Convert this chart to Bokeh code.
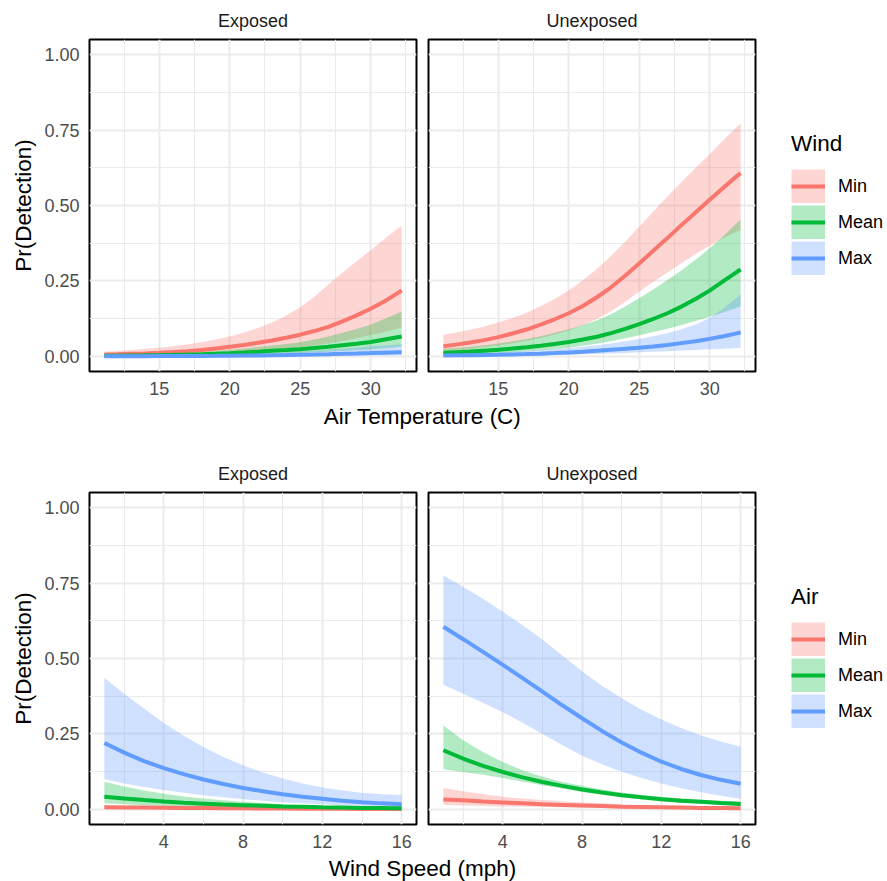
from bokeh.plotting import figure
from bokeh.layouts import column, row
from bokeh.models import (FixedTicker, NumeralTickFormatter, Legend, LegendItem,
                          Label, Range1d)
from bokeh.embed import file_html
from bokeh.resources import INLINE

# ---------------- data ----------------
levels = ["Min", "Mean", "Max"]
colors = ["#F8766D", "#00BA38", "#619CFF"]
panel_names = ["Exposed", "Unexposed"]

y_ticks = [0.0, 0.25, 0.5, 0.75, 1.0]
temp_ticks = [15, 20, 25, 30]
wind_ticks = [4, 8, 12, 16]

# Air temperature (C) sample points
air_temp = [11.1, 12, 13, 14, 15, 16, 17, 18, 19, 20, 21, 22, 23, 24, 25, 26,
            27, 28, 29, 30, 31, 32, 32.2]

# Top row: Pr(Detection) vs air temperature, by wind level
temp_exp_min_fit = [0.006, 0.007, 0.0085, 0.010, 0.012, 0.0145, 0.0175, 0.021, 0.026, 0.032, 0.038, 0.045,
                    0.053, 0.062, 0.072, 0.084, 0.098, 0.116, 0.136, 0.158, 0.183, 0.212, 0.219]
temp_exp_min_lo = [0.002, 0.0025, 0.003, 0.0037, 0.0045, 0.0055, 0.0068, 0.0083, 0.010, 0.012, 0.0145, 0.0175,
                   0.021, 0.025, 0.030, 0.036, 0.043, 0.051, 0.060, 0.070, 0.081, 0.093, 0.095]
temp_exp_min_hi = [0.016, 0.018, 0.021, 0.025, 0.029, 0.034, 0.040, 0.047, 0.056, 0.066, 0.079, 0.094,
                   0.112, 0.135, 0.163, 0.198, 0.238, 0.277, 0.315, 0.352, 0.390, 0.426, 0.433]
temp_exp_mean_fit = [0.002, 0.0024, 0.003, 0.0036, 0.0043, 0.0052, 0.0062, 0.0075, 0.009, 0.0108, 0.013, 0.0155,
                     0.0185, 0.021, 0.024, 0.028, 0.032, 0.037, 0.042, 0.048, 0.056, 0.064, 0.066]
temp_exp_mean_lo = [0.0008, 0.001, 0.0012, 0.0015, 0.0018, 0.0022, 0.0027, 0.0033, 0.004, 0.0048, 0.0058, 0.007,
                    0.0083, 0.0098, 0.0115, 0.0135, 0.0155, 0.0178, 0.0203, 0.023, 0.027, 0.031, 0.032]
temp_exp_mean_hi = [0.005, 0.0058, 0.0068, 0.008, 0.0095, 0.011, 0.013, 0.0155, 0.0185, 0.022, 0.026, 0.031,
                    0.036, 0.041, 0.047, 0.056, 0.066, 0.078, 0.091, 0.105, 0.125, 0.145, 0.149]
temp_exp_max_fit = [0.0005, 0.0006, 0.0007, 0.0008, 0.001, 0.0012, 0.0014, 0.0017, 0.002, 0.0024, 0.0029, 0.0034,
                    0.004, 0.0047, 0.0055, 0.0064, 0.0074, 0.0085, 0.0097, 0.011, 0.0125, 0.0138, 0.014]
temp_exp_max_lo = [0.0001, 0.0001, 0.0001, 0.0002, 0.0002, 0.0002, 0.0003, 0.0003, 0.0004, 0.0005, 0.0006, 0.0007,
                   0.0008, 0.001, 0.0012, 0.0014, 0.0017, 0.002, 0.0024, 0.0028, 0.0033, 0.0038, 0.004]
temp_exp_max_hi = [0.002, 0.0023, 0.0027, 0.0031, 0.0036, 0.0042, 0.0049, 0.0057, 0.0066, 0.0077, 0.009, 0.0105,
                   0.0122, 0.0142, 0.0165, 0.019, 0.022, 0.0255, 0.0293, 0.0335, 0.0365, 0.0395, 0.040]

temp_unexp_min_fit = [0.034, 0.039, 0.046, 0.054, 0.064, 0.076, 0.089, 0.105, 0.123, 0.143, 0.167, 0.196,
                      0.229, 0.267, 0.308, 0.350, 0.392, 0.435, 0.477, 0.519, 0.560, 0.600, 0.607]
temp_unexp_min_lo = [0.018, 0.021, 0.025, 0.030, 0.036, 0.043, 0.051, 0.061, 0.072, 0.086, 0.103, 0.124,
                     0.150, 0.181, 0.214, 0.247, 0.278, 0.309, 0.339, 0.367, 0.393, 0.415, 0.419]
temp_unexp_min_hi = [0.072, 0.079, 0.088, 0.099, 0.112, 0.127, 0.145, 0.166, 0.190, 0.218, 0.252, 0.290,
                     0.333, 0.380, 0.430, 0.480, 0.530, 0.578, 0.625, 0.670, 0.718, 0.763, 0.772]
temp_unexp_mean_fit = [0.012, 0.014, 0.016, 0.019, 0.022, 0.026, 0.030, 0.035, 0.041, 0.048, 0.056, 0.065,
                       0.077, 0.091, 0.107, 0.124, 0.143, 0.165, 0.190, 0.218, 0.250, 0.282, 0.288]
temp_unexp_mean_lo = [0.006, 0.007, 0.008, 0.010, 0.012, 0.014, 0.017, 0.020, 0.024, 0.029, 0.035, 0.042,
                      0.050, 0.060, 0.070, 0.081, 0.092, 0.104, 0.117, 0.131, 0.146, 0.162, 0.165]
temp_unexp_mean_hi = [0.025, 0.028, 0.032, 0.037, 0.043, 0.050, 0.058, 0.067, 0.078, 0.090, 0.104, 0.120,
                      0.140, 0.165, 0.193, 0.222, 0.253, 0.285, 0.320, 0.358, 0.400, 0.445, 0.452]
temp_unexp_max_fit = [0.003, 0.0035, 0.004, 0.0048, 0.0056, 0.0066, 0.0078, 0.0092, 0.011, 0.013, 0.0155, 0.0185,
                      0.022, 0.025, 0.029, 0.033, 0.038, 0.044, 0.050, 0.058, 0.067, 0.077, 0.080]
temp_unexp_max_lo = [0.001, 0.0012, 0.0015, 0.0018, 0.0022, 0.0027, 0.0033, 0.004, 0.0048, 0.0058, 0.007, 0.0083,
                     0.0098, 0.0115, 0.0135, 0.0155, 0.0175, 0.0195, 0.0215, 0.0235, 0.0255, 0.0275, 0.028]
temp_unexp_max_hi = [0.008, 0.009, 0.010, 0.012, 0.014, 0.016, 0.018, 0.021, 0.024, 0.028, 0.032, 0.037,
                     0.043, 0.050, 0.058, 0.067, 0.077, 0.090, 0.106, 0.127, 0.160, 0.198, 0.206]

# Wind speed (mph) sample points
wind_speed = [1, 2, 3, 4, 5, 6, 7, 8, 9, 10, 11, 12, 13, 14, 15, 16]

# Bottom row: Pr(Detection) vs wind speed, by air temperature level
wind_exp_min_fit = [0.007, 0.0065, 0.006, 0.0055, 0.005, 0.0045, 0.004, 0.0035, 0.003, 0.0027, 0.0024, 0.0021,
                    0.0018, 0.0015, 0.0012, 0.001]
wind_exp_min_lo = [0.003, 0.0028, 0.0026, 0.0024, 0.0022, 0.002, 0.0018, 0.0016, 0.0014, 0.0012, 0.001, 0.0009,
                   0.0008, 0.0007, 0.0006, 0.0005]
wind_exp_min_hi = [0.015, 0.014, 0.013, 0.012, 0.011, 0.010, 0.009, 0.008, 0.007, 0.006, 0.0053, 0.0046,
                   0.004, 0.0034, 0.0028, 0.0022]
wind_exp_mean_fit = [0.042, 0.036, 0.031, 0.026, 0.022, 0.019, 0.016, 0.014, 0.012, 0.010, 0.0085, 0.007,
                     0.006, 0.005, 0.0045, 0.004]
wind_exp_mean_lo = [0.020, 0.017, 0.014, 0.012, 0.0105, 0.009, 0.0075, 0.006, 0.005, 0.004, 0.0035, 0.003,
                    0.0025, 0.002, 0.0017, 0.0015]
wind_exp_mean_hi = [0.092, 0.076, 0.063, 0.052, 0.043, 0.036, 0.030, 0.025, 0.021, 0.017, 0.0145, 0.012,
                    0.010, 0.008, 0.007, 0.006]
wind_exp_max_fit = [0.220, 0.188, 0.160, 0.137, 0.117, 0.099, 0.084, 0.071, 0.060, 0.050, 0.042, 0.035,
                    0.029, 0.024, 0.020, 0.017]
wind_exp_max_lo = [0.100, 0.086, 0.074, 0.064, 0.055, 0.047, 0.040, 0.034, 0.029, 0.024, 0.020, 0.017,
                   0.014, 0.012, 0.010, 0.008]
wind_exp_max_hi = [0.435, 0.383, 0.334, 0.286, 0.244, 0.207, 0.174, 0.146, 0.122, 0.102, 0.086, 0.073,
                   0.063, 0.055, 0.050, 0.047]

wind_unexp_min_fit = [0.033, 0.030, 0.026, 0.023, 0.020, 0.017, 0.015, 0.013, 0.011, 0.009, 0.008, 0.007,
                      0.006, 0.005, 0.0045, 0.004]
wind_unexp_min_lo = [0.015, 0.013, 0.011, 0.010, 0.009, 0.008, 0.007, 0.006, 0.005, 0.004, 0.0035, 0.003,
                     0.0025, 0.002, 0.0017, 0.0015]
wind_unexp_min_hi = [0.071, 0.060, 0.051, 0.042, 0.036, 0.031, 0.027, 0.023, 0.020, 0.017, 0.0145, 0.012,
                     0.0105, 0.009, 0.008, 0.007]
wind_unexp_mean_fit = [0.196, 0.168, 0.144, 0.124, 0.106, 0.091, 0.078, 0.066, 0.056, 0.047, 0.040, 0.034,
                       0.029, 0.025, 0.021, 0.018]
wind_unexp_mean_lo = [0.133, 0.124, 0.115, 0.104, 0.092, 0.080, 0.069, 0.058, 0.049, 0.041, 0.033, 0.027,
                      0.022, 0.019, 0.015, 0.012]
wind_unexp_mean_hi = [0.278, 0.229, 0.190, 0.157, 0.130, 0.108, 0.091, 0.078, 0.066, 0.056, 0.048, 0.042,
                      0.037, 0.032, 0.029, 0.027]
wind_unexp_max_fit = [0.605, 0.564, 0.522, 0.479, 0.435, 0.390, 0.345, 0.302, 0.260, 0.222, 0.188, 0.158,
                      0.134, 0.114, 0.098, 0.085]
wind_unexp_max_lo = [0.413, 0.383, 0.353, 0.322, 0.287, 0.250, 0.213, 0.178, 0.150, 0.125, 0.104, 0.086,
                     0.070, 0.057, 0.045, 0.035]
wind_unexp_max_hi = [0.775, 0.738, 0.698, 0.655, 0.610, 0.563, 0.510, 0.458, 0.410, 0.368, 0.330, 0.298,
                     0.270, 0.245, 0.225, 0.208]

# ---------------- styling ----------------
FONT = "Liberation Sans"
FRAME_W, FRAME_H = 327, 332
LEFT_W, GAP = 89, 6
LEGEND_W = 887 - (LEFT_W + FRAME_W + GAP) - (GAP + FRAME_W + GAP)


def expand(vals, frac=0.05):
    lo, hi = min(vals), max(vals)
    d = (hi - lo) * frac
    return lo - d, hi + d


def minor_between(ticks):
    step = ticks[1] - ticks[0]
    return [t - step / 2 for t in ticks] + [ticks[-1] + step / 2]


def make_panel(name, xs, bands, xr, xticks, first, top, bottom):
    p = figure(frame_width=FRAME_W, frame_height=FRAME_H,
               x_range=Range1d(*xr), y_range=Range1d(-0.05, 1.05),
               output_backend="svg", toolbar_location=None,
               min_border_left=LEFT_W if first else GAP, min_border_right=GAP,
               min_border_top=top, min_border_bottom=bottom,
               background_fill_color="white", border_fill_color="white")
    p.title.text = name
    p.title.align = "center"
    p.title.text_font = FONT
    p.title.text_font_size = "18px"
    p.title.text_font_style = "normal"
    p.title.text_color = "#1A1A1A"
    p.title.standoff = 17

    xt = FixedTicker(ticks=xticks, minor_ticks=minor_between(xticks))
    yt = FixedTicker(ticks=y_ticks, minor_ticks=minor_between(y_ticks))
    p.xaxis.ticker = xt
    p.yaxis.ticker = yt
    p.xgrid.ticker = xt
    p.ygrid.ticker = yt
    p.yaxis.formatter = NumeralTickFormatter(format="0.00")
    for g in (p.xgrid, p.ygrid):
        g.grid_line_color = "#EBEBEB"
        g.grid_line_width = 2
        g.minor_grid_line_color = "#EBEBEB"
        g.minor_grid_line_width = 1
    for ax in (p.xaxis, p.yaxis):
        ax.axis_line_color = None
        ax.major_tick_line_color = None
        ax.minor_tick_line_color = None
        ax.major_tick_out = 0
        ax.major_tick_in = 0
        ax.minor_tick_out = 0
        ax.minor_tick_in = 0
        ax.major_label_text_font = FONT
        ax.major_label_text_font_size = "18px"
        ax.major_label_text_color = "#4D4D4D"
    p.xaxis.major_label_standoff = 10
    p.yaxis.major_label_standoff = 10
    if first:
        p.yaxis.axis_label = "Pr(Detection)"
        p.yaxis.axis_label_text_font = FONT
        p.yaxis.axis_label_text_font_size = "22.5px"
        p.yaxis.axis_label_text_font_style = "normal"
        p.yaxis.axis_label_text_color = "black"
        p.yaxis.axis_label_standoff = 5
    else:
        p.yaxis.visible = False

    p.outline_line_color = "black"
    p.outline_line_width = 2

    for (fit, lo, hi), c in zip(bands, colors):
        p.varea(x=xs, y1=lo, y2=hi, fill_color=c, fill_alpha=0.3)
    for (fit, lo, hi), c in zip(bands, colors):
        p.line(x=xs, y=fit, line_color=c, line_width=4)
    return p


def make_legend(title, top, bottom, items_top, xs, bands):
    # frame aligned with the panels of the same row; legend anchored by its bottom.
    # The key renderers carry the series data but the view range excludes it,
    # so only their legend keys are visible.
    frame_bottom = top + FRAME_H
    items_bottom = items_top + 3 * 34 + 2 * 2
    p = figure(frame_width=LEGEND_W, frame_height=FRAME_H,
               x_axis_type=None, y_axis_type=None,
               x_range=Range1d(-2, -1), y_range=Range1d(0, 1),
               output_backend="svg", toolbar_location=None,
               min_border_left=0, min_border_right=0,
               min_border_top=top, min_border_bottom=bottom,
               background_fill_color="white", border_fill_color="white")
    p.outline_line_color = None
    items = []
    for lev, c, (fit, lo, hi) in zip(levels, colors, bands):
        band = p.line(x=xs, y=fit, line_color=c, line_alpha=0.3, line_width=34,
                      line_cap="butt")
        ln = p.line(x=xs, y=fit, line_color=c, line_width=4)
        items.append(LegendItem(label=lev, renderers=[band, ln]))
    leg = Legend(items=items, location=(791 - 761, frame_bottom - items_bottom),
                 title=title, title_text_font=FONT, title_text_font_size="22.5px",
                 title_text_font_style="normal", title_text_color="black",
                 title_standoff=12,
                 label_text_font=FONT, label_text_font_size="18px",
                 label_text_color="black", label_standoff=13,
                 glyph_width=34, glyph_height=34, spacing=2,
                 padding=0, margin=0, border_line_color=None,
                 background_fill_alpha=0)
    p.add_layout(leg, "center")
    return p


def make_xtitle(text, height, baseline_from_bottom):
    p = figure(frame_width=887, frame_height=height,
               x_axis_type=None, y_axis_type=None,
               x_range=Range1d(0, 1), y_range=Range1d(0, 1),
               output_backend="svg", toolbar_location=None,
               min_border=0, min_border_left=0, min_border_right=0,
               min_border_top=0, min_border_bottom=0,
               background_fill_color="white", border_fill_color="white")
    p.outline_line_color = None
    p.add_layout(Label(x=LEFT_W + (2 * FRAME_W + 2 * GAP) / 2, y=baseline_from_bottom,
                       x_units="screen", y_units="screen", text=text,
                       text_align="center", text_baseline="alphabetic",
                       text_font=FONT, text_font_size="22.5px", text_color="black"))
    return p


temp_range = expand(air_temp)
wind_range = expand(wind_speed)

top_bands = {
    "Exposed": [(temp_exp_min_fit, temp_exp_min_lo, temp_exp_min_hi),
                (temp_exp_mean_fit, temp_exp_mean_lo, temp_exp_mean_hi),
                (temp_exp_max_fit, temp_exp_max_lo, temp_exp_max_hi)],
    "Unexposed": [(temp_unexp_min_fit, temp_unexp_min_lo, temp_unexp_min_hi),
                  (temp_unexp_mean_fit, temp_unexp_mean_lo, temp_unexp_mean_hi),
                  (temp_unexp_max_fit, temp_unexp_max_lo, temp_unexp_max_hi)],
}
bottom_bands = {
    "Exposed": [(wind_exp_min_fit, wind_exp_min_lo, wind_exp_min_hi),
                (wind_exp_mean_fit, wind_exp_mean_lo, wind_exp_mean_hi),
                (wind_exp_max_fit, wind_exp_max_lo, wind_exp_max_hi)],
    "Unexposed": [(wind_unexp_min_fit, wind_unexp_min_lo, wind_unexp_min_hi),
                  (wind_unexp_mean_fit, wind_unexp_mean_lo, wind_unexp_mean_hi),
                  (wind_unexp_max_fit, wind_unexp_max_lo, wind_unexp_max_hi)],
}

ROW1_TOP, ROW1_BOT = 38, 32
ROW2_TOP, ROW2_BOT = 51, 32
row1_h = ROW1_TOP + FRAME_H + ROW1_BOT      # 402
row2_h = ROW2_TOP + FRAME_H + ROW2_BOT      # 415
t1_h = 440 - row1_h                         # 38
t2_h = 881 - (440 + row2_h)                 # 26

a1 = make_panel(panel_names[0], air_temp, top_bands["Exposed"], temp_range, temp_ticks, True, ROW1_TOP, ROW1_BOT)
b1 = make_panel(panel_names[1], air_temp, top_bands["Unexposed"], temp_range, temp_ticks, False, ROW1_TOP, ROW1_BOT)
c1 = make_legend("Wind", ROW1_TOP, ROW1_BOT, 168, air_temp, top_bands["Unexposed"])
t1 = make_xtitle("Air Temperature (C)", t1_h, 25)

a2 = make_panel(panel_names[0], wind_speed, bottom_bands["Exposed"], wind_range, wind_ticks, True, ROW2_TOP, ROW2_BOT)
b2 = make_panel(panel_names[1], wind_speed, bottom_bands["Unexposed"], wind_range, wind_ticks, False, ROW2_TOP, ROW2_BOT)
c2 = make_legend("Air", ROW2_TOP, ROW2_BOT, 621 - 440, wind_speed, bottom_bands["Unexposed"])
t2 = make_xtitle("Wind Speed (mph)", t2_h, 14)

layout = column(row(a1, b1, c1), t1, row(a2, b2, c2), t2)

open("out.html", "w").write(file_html(layout, INLINE))
